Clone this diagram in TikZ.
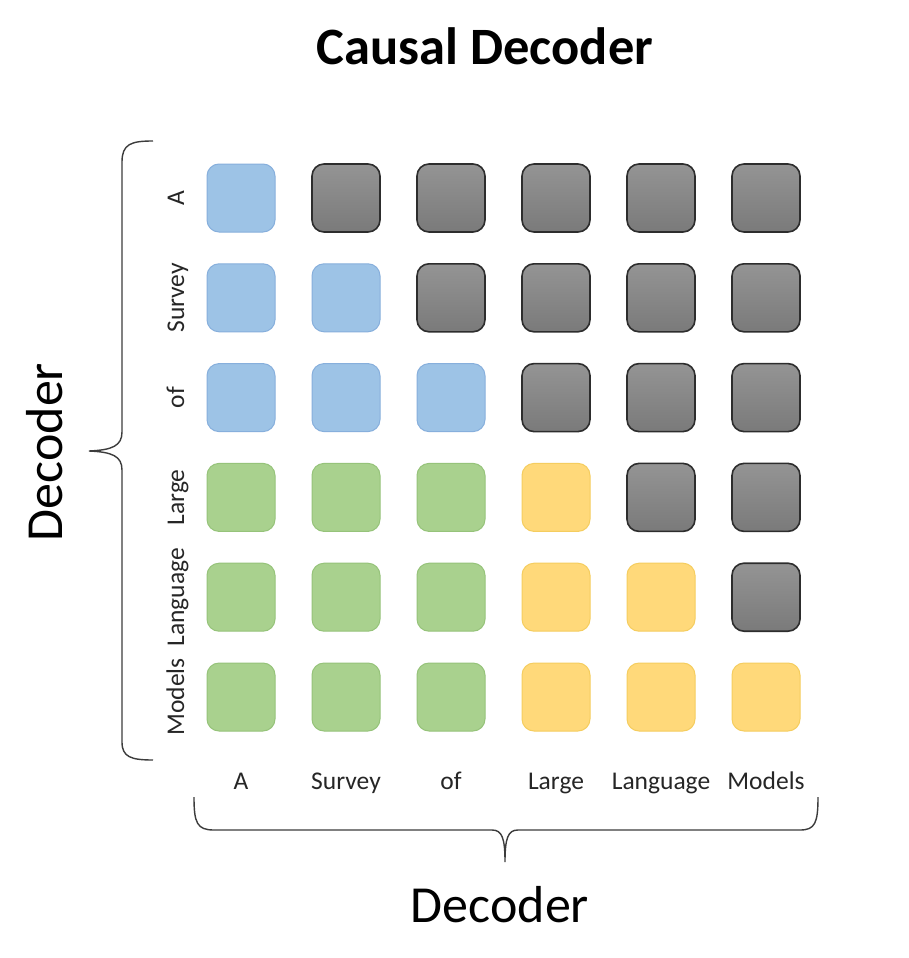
\documentclass[tikz,border=0pt]{standalone}
\usepackage{fontspec}
\setmainfont{Carlito}
\definecolor{bluef}{RGB}{157,195,230}
\definecolor{blued}{RGB}{135,175,220}
\definecolor{greenf}{RGB}{169,209,142}
\definecolor{greend}{RGB}{150,195,122}
\definecolor{yellowf}{RGB}{255,217,122}
\definecolor{yellowd}{RGB}{245,205,95}
\definecolor{grayt}{RGB}{148,148,148}
\definecolor{grayb}{RGB}{122,122,122}
\definecolor{grayd}{RGB}{45,45,45}
\definecolor{bracec}{RGB}{60,60,60}
\tikzset{
  cell/.style={minimum width=68pt,minimum height=68pt,rounded corners=12pt,inner sep=0pt},
  bluebox/.style={cell,fill=bluef,draw=blued,line width=1pt},
  greenbox/.style={cell,fill=greenf,draw=greend,line width=1pt},
  yellowbox/.style={cell,fill=yellowf,draw=yellowd,line width=1pt},
  graybox/.style={cell,top color=grayt,bottom color=grayb,draw=grayd,line width=1.6pt},
  tok/.style={font=\fontsize{25.5}{30}\selectfont,text=black!85,inner sep=0pt},
  big/.style={font=\fontsize{52}{60}\selectfont,inner sep=0pt},
  bracestyle/.style={draw=bracec,line width=1.4pt}
}
\begin{document}
\begin{tikzpicture}[x=1pt,y=-1pt]
\useasboundingbox[fill=white] (0,0) rectangle (908,958);
\node[big,font=\fontsize{52.5}{60}\selectfont\bfseries] (title) at (485,46) {Causal Decoder};
\foreach \r in {1,...,6}{
  \foreach \c in {1,...,6}{
    \ifnum\c>\r \def\st{graybox}\else
      \ifnum\r<4 \def\st{bluebox}\else
        \ifnum\c<4 \def\st{greenbox}\else \def\st{yellowbox}\fi
      \fi
    \fi
    \node[\st] (s\r\c) at ({241+105*(\c-1)},{198+99.8*(\r-1)}) {};
  }
}
\foreach \w [count=\i] in {A,Survey,of,Large,Language,Models}{
  \node[tok,anchor=base] (col\i) at ({241+105*(\i-1)},789) {\w};
  \node[tok,rotate=90,anchor=base] (row\i) at (184,{198+99.8*(\i-1)}) {\w};
}
% left brace
\draw[bracestyle] (153,141) .. controls (131,141) and (122,144) .. (122,162)
  -- (122,432) .. controls (122,446) and (112,450) .. (89,451)
  .. controls (112,452) and (122,456) .. (122,470)
  -- (122,742) .. controls (122,757) and (131,760) .. (153,760);
% bottom brace
\draw[bracestyle] (194,797) .. controls (194,823) and (197,830) .. (214,830)
  -- (492,830) .. controls (502,830) and (505,838) .. (505,862)
  .. controls (505,838) and (508,830) .. (518,830)
  -- (800,830) .. controls (815,830) and (818,823) .. (818,797);
\node[big,rotate=90] (ldec) at (45,452) {Decoder};
\node[big] (bdec) at (500,905) {Decoder};
\end{tikzpicture}
\end{document}
